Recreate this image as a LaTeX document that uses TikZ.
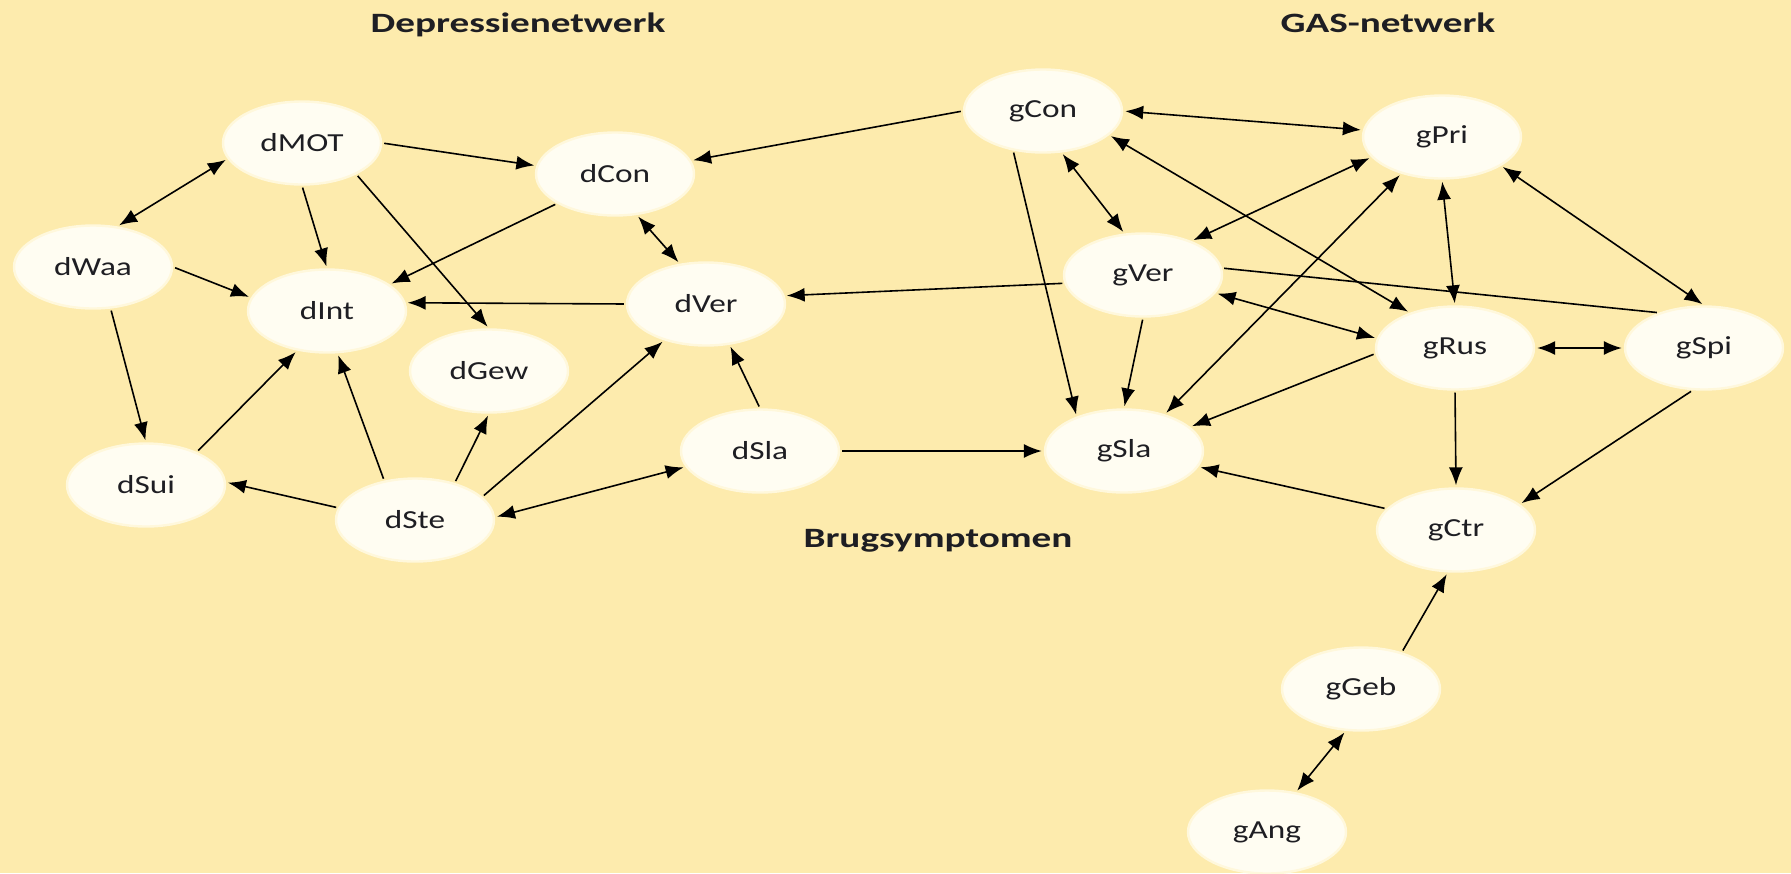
\documentclass[tikz,border=0pt]{standalone}
\usepackage{fontspec}
\setmainfont{Carlito}
\newfontfamily\nodefont[FakeStretch=1.28]{Carlito}
\newfontfamily\titlefont[FakeStretch=1.4]{Carlito}
\usetikzlibrary{shapes.geometric,arrows.meta}
\definecolor{bg}{RGB}{253,235,173}
\definecolor{nfill}{RGB}{255,253,242}
\definecolor{nedge}{RGB}{255,248,220}
\definecolor{txt}{RGB}{30,30,35}
\begin{document}
\begin{tikzpicture}[x=0.5pt,y=-0.5pt,
  nd/.style={ellipse,fill=nfill,draw=nedge,line width=1.2pt,minimum width=79pt,minimum height=41.5pt,inner sep=0pt,font=\nodefont\fontsize{13}{15}\selectfont,text=txt},
  ttl/.style={font=\titlefont\bfseries\fontsize{14}{16}\selectfont,text=txt,anchor=base,inner sep=0pt},
  ar/.style={-{Latex[length=9pt,width=7pt]},line width=0.8pt,shorten >=1pt,shorten <=1pt},
  br/.style={{Latex[length=9pt,width=7pt]}-{Latex[length=9pt,width=7pt]},line width=0.8pt,shorten >=1pt,shorten <=1pt},
  ln/.style={line width=0.8pt,shorten >=1pt,shorten <=1pt}]
\fill[bg] (0,0) rectangle (1791,873);
\useasboundingbox (0,0) rectangle (1791,873);
% titles
\node[ttl] (t1) at (518,32) {Depressienetwerk};
\node[ttl] (t2) at (1388,32) {GAS-netwerk};
\node[ttl] (t3) at (938,547) {Brugsymptomen};
% nodes
\node[nd] (dMOT) at (302,143) {dMOT};
\node[nd] (dCon) at (615,174) {dCon};
\node[nd] (dWaa) at (93,267) {dWaa};
\node[nd] (dInt) at (327,311) {dInt};
\node[nd] (dGew) at (489,371) {dGew};
\node[nd] (dVer) at (706,304) {dVer};
\node[nd] (dSui) at (146,485) {dSui};
\node[nd] (dSte) at (415,520) {dSte};
\node[nd] (dSla) at (760,451) {dSla};
\node[nd] (gCon) at (1043,111) {gCon};
\node[nd] (gPri) at (1442,137) {gPri};
\node[nd] (gVer) at (1143,275) {gVer};
\node[nd] (gRus) at (1455,348) {gRus};
\node[nd] (gSpi) at (1704,348) {gSpi};
\node[nd] (gSla) at (1124,451) {gSla};
\node[nd] (gCtr) at (1456,530) {gCtr};
\node[nd] (gGeb) at (1361,689) {gGeb};
\node[nd] (gAng) at (1267,832) {gAng};
% depression network
\draw[br] (dMOT.192) -- (dWaa.59);
\draw[ar] (dMOT.east) -- (dCon.174);
\draw[ar] (dMOT.south) -- (dInt.north);
\draw[ar] (dMOT.-30) -- (dGew.north);
\draw[ar] (dCon.207) -- (dInt.23);
\draw[br] (dCon.298) -- (dVer.123);
\draw[ar] (dWaa.east) -- (dInt.170);
\draw[ar] (dWaa.293) -- (dSui.north);
\draw[ar] (dSui.33) -- (dInt.233);
\draw[ar] (dVer.west) -- (dInt.6);
\draw[ar] (dSte.171) -- (dSui.2);
\draw[ar] (dSte.128) -- (dInt.284);
\draw[ar] (dSte.43) -- (dGew.south);
\draw[ar] (dSte.19) -- (dVer.221);
\draw[br] (dSte.2) -- (dSla.192);
\draw[ar] (dSla.north) -- (dVer.300);
\draw[ar] (dSla.east) -- (gSla.west);
% GAS network
\draw[ar] (gCon.west) -- (dCon.10);
\draw[br] (gCon.east) -- (gPri.175);
\draw[br] (gCon.294) -- (gVer.114);
\draw[br] (gCon.340) -- (gRus.142);
\draw[ar] (gCon.233) -- (gSla.144);
\draw[br] (gPri.196) -- (gVer.35);
\draw[br] (gPri.222) -- (gSla.42);
\draw[br] (gPri.south) -- (gRus.north);
\draw[br] (gPri.334) -- (gSpi.north);
\draw[ar] (gVer.186) -- (dVer.6);
\draw[br] (gVer.346) -- (gRus.173);
\draw[ln] (gVer.5) -- (gSpi.142);
\draw[ar] (gVer.south) -- (gSla.north);
\draw[br] (gRus.east) -- (gSpi.west);
\draw[ar] (gRus.184) -- (gSla.20);
\draw[ar] (gRus.south) -- (gCtr.north);
\draw[ar] (gSpi.255) -- (gCtr.22);
\draw[ar] (gCtr.163) -- (gSla.348);
\draw[ar] (gGeb.42) -- (gCtr.259);
\draw[br] (gAng.54) -- (gGeb.250);
\end{tikzpicture}
\end{document}
